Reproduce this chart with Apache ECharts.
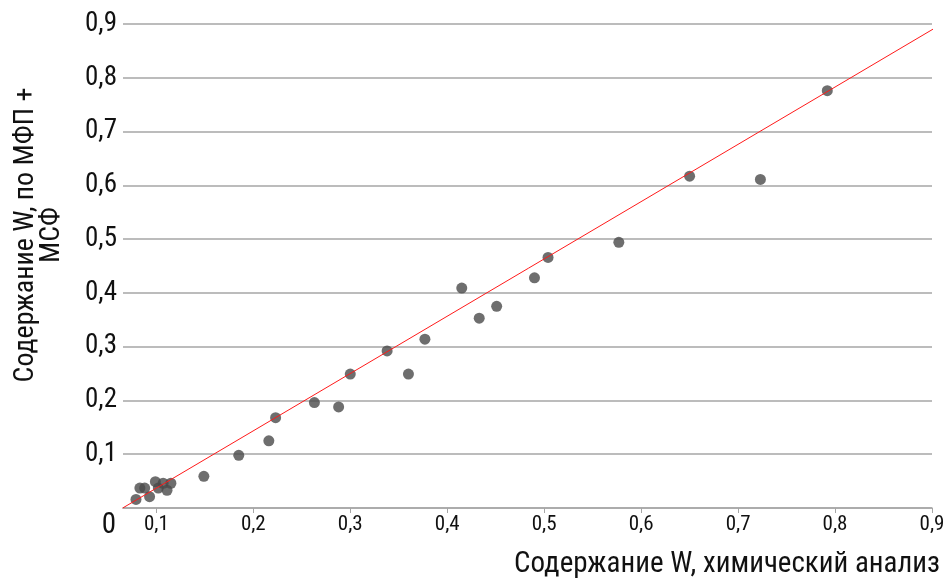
<!DOCTYPE html>
<html>
<head>
<meta charset="utf-8">
<script src="https://cdn.jsdelivr.net/npm/echarts@6/dist/echarts.min.js"></script>
<style>html,body{margin:0;padding:0;background:#fff;}#c{width:948px;height:584px;}</style>
</head>
<body>
<div id="c"></div>
<script>
// Data
const chemX = [0.079,0.083,0.088,0.093,0.099,0.102,0.107,0.111,0.115,0.149,0.185,0.216,0.223,0.263,0.288,0.300,0.338,0.360,0.377,0.415,0.433,0.451,0.490,0.504,0.577,0.650,0.723,0.792];
const mfpY  = [0.016,0.037,0.037,0.021,0.049,0.037,0.046,0.033,0.046,0.059,0.098,0.125,0.168,0.196,0.188,0.249,0.292,0.249,0.314,0.409,0.353,0.375,0.428,0.466,0.494,0.617,0.611,0.776];
const refLineX = [0.0653, 0.910];
const refLineY = [0, 0.9];
const xTicks = [0.1,0.2,0.3,0.4,0.5,0.6,0.7,0.8,0.9];
const xTitle = 'Содержание W, химический анализ';
const yTitle = 'Содержание W, по МФП +\nМСФ';

const FONT = "'Roboto Condensed','Liberation Sans Narrow','DejaVu Sans Condensed',sans-serif";
const fmt = v => String(Math.round(v*10)/10).replace('.', ',');

const chart = echarts.init(document.getElementById('c'), null, {renderer:'canvas'});
chart.setOption({
  animation:false,
  backgroundColor:'#fff',
  textStyle:{fontFamily:FONT},
  grid:{left:123, top:24, width:809, height:484, containLabel:false},
  xAxis:{
    type:'value', min:0.0656, max:0.9,
    name:xTitle, nameLocation:'end', nameGap:8,
    nameTextStyle:{fontFamily:FONT, fontSize:29, color:'#111', align:'right', verticalAlign:'top', padding:[42,0,0,0]},
    axisLine:{show:true, lineStyle:{color:'#a6a6a6', width:1.5}},
    axisTick:{show:true, customValues:xTicks, length:5, lineStyle:{color:'#a6a6a6'}},
    axisLabel:{customValues:xTicks, formatter:fmt, fontFamily:FONT, fontSize:21, color:'#111', margin:6},
    splitLine:{show:false}
  },
  yAxis:{
    type:'value', min:0, max:0.9, interval:0.1,
    name:yTitle, nameLocation:'middle', nameGap:58, nameRotate:90,
    nameTextStyle:{fontFamily:FONT, fontSize:28, color:'#111', lineHeight:26, padding:[0,0,0,62]},
    axisLine:{show:false}, axisTick:{show:false},
    axisLabel:{
      fontFamily:FONT, fontSize:27, color:'#111', margin:6,
      formatter:v => v === 0 ? '{z|0}' : fmt(v),
      rich:{z:{fontFamily:FONT, fontSize:29, color:'#111', padding:[36,1,0,0]}}
    },
    splitLine:{show:true, lineStyle:{color:'#a6a6a6', width:1.5}}
  },
  series:[
    {
      type:'scatter', symbol:'circle', symbolSize:11,
      itemStyle:{color:'#4a4a4a'},
      data: chemX.map((x,i)=>[x, mfpY[i]]), z:3
    },
    {
      type:'line', symbol:'none', clip:false,
      lineStyle:{color:'#ff1a1a', width:1},
      data: refLineX.map((x,i)=>[x, refLineY[i]]), z:4
    }
  ]
});
</script>
</body>
</html>
